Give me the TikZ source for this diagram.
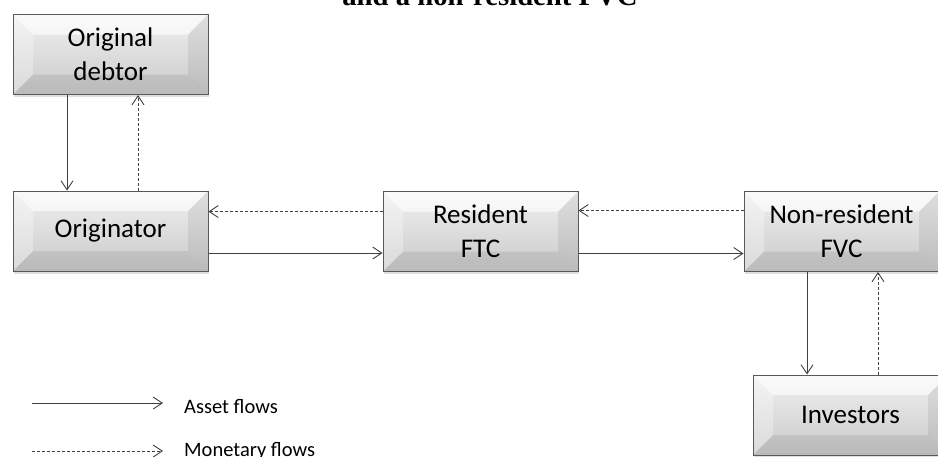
\documentclass[tikz,border=0pt]{standalone}
\usepackage{fontspec}
\setmainfont{Carlito}
\newfontfamily\titlefont{Liberation Serif}
\usetikzlibrary{arrows.meta,shadows}
\definecolor{edgegrey}{RGB}{89,89,89}
\definecolor{linegrey}{RGB}{64,64,64}
\definecolor{facetop}{RGB}{240,240,240}
\definecolor{facebot}{RGB}{202,202,202}
\tikzset{
  bev/.style={draw=edgegrey,line width=1pt,top color=facetop,bottom color=facebot,
              minimum width=195pt,minimum height=80pt,align=center,inner sep=0pt,
              font=\fontsize{27}{34}\selectfont,
              drop shadow={opacity=.25,shadow xshift=1pt,shadow yshift=-2.5pt},
              path picture={
                \coordinate (pnw) at (path picture bounding box.north west);
                \coordinate (pne) at (path picture bounding box.north east);
                \coordinate (psw) at (path picture bounding box.south west);
                \coordinate (pse) at (path picture bounding box.south east);
                \fill[white,opacity=.65] (pnw) -- (pne) -- ([xshift=-20pt,yshift=-20pt]pne)
                  -- ([xshift=20pt,yshift=-20pt]pnw) -- cycle;
                \fill[white,opacity=.3] (pnw) -- ([xshift=20pt,yshift=-20pt]pnw)
                  -- ([xshift=20pt,yshift=20pt]psw) -- (psw) -- cycle;
                \fill[black,opacity=.07] (pne) -- ([xshift=-20pt,yshift=-20pt]pne)
                  -- ([xshift=-20pt,yshift=20pt]pse) -- (pse) -- cycle;
                \fill[black,opacity=.08] (psw) -- ([xshift=20pt,yshift=20pt]psw)
                  -- ([xshift=-20pt,yshift=20pt]pse) -- (pse) -- cycle;
              }},
  flow/.style={-{Straight Barb[length=9pt,width=12pt]},draw=linegrey,line width=.9pt},
  flowd/.style={flow,dash pattern=on 3pt off 2pt},
  lgd/.style={font=\fontsize{20.5}{24}\selectfont,inner sep=0pt,anchor=base west},
}

\begin{document}
\begin{tikzpicture}[x=1pt,y=-1pt]
  \useasboundingbox (0,0) rectangle (938,456);

  \node[font=\titlefont\bfseries\fontsize{28.7}{33}\selectfont,anchor=base,inner sep=0pt]
    (title) at (490,5) {and a non-resident FVC};

  % entities
  \node[bev] (debtor) at (110.5,54.5)  {Original\\debtor};
  \node[bev] (orig)   at (110.5,231)   {Originator};
  \node[bev] (ftc)    at (480.5,231.5) {Resident\\FTC};
  \node[bev] (fvc)    at (841.5,231.5) {Non-resident\\FVC};
  \node[bev] (inv)    at (850.5,415)   {Investors};

  % flows
  \draw[flow]  ([xshift=-43.5pt]debtor.south) -- ([xshift=-43.5pt]orig.north);
  \draw[flowd] ([xshift=27.5pt]orig.north) -- ([xshift=27.5pt]debtor.south);

  \draw[flowd] ([yshift=20pt]ftc.west) -- ([yshift=20pt]ftc.west -| orig.east);
  \draw[flow]  ([yshift=-22pt]orig.east) -- ([yshift=-22pt]orig.east -| ftc.west);

  \draw[flowd] ([yshift=21pt]fvc.west) -- ([yshift=21pt]fvc.west -| ftc.east);
  \draw[flow]  ([yshift=-22pt]ftc.east) -- ([yshift=-22pt]ftc.east -| fvc.west);

  \draw[flow]  ([xshift=-34.5pt]fvc.south) -- ([xshift=-34.5pt]fvc.south |- inv.north);
  \draw[flowd] ([xshift=36.5pt]fvc.south |- inv.north) -- ([xshift=36.5pt]fvc.south);

  % legend
  \node[lgd] (lgasset) at (184,413) {Asset flows};
  \node[lgd] (lgmoney) at (184,456) {Monetary flows};
  \coordinate (lgas) at (32,403);
  \coordinate (lgms) at (32,451);
  \draw[flow]  (lgas) -- ([xshift=-21pt]lgas -| lgasset.west);
  \draw[flowd] (lgms) -- ([xshift=-21pt]lgms -| lgmoney.west);
\end{tikzpicture}
\end{document}
